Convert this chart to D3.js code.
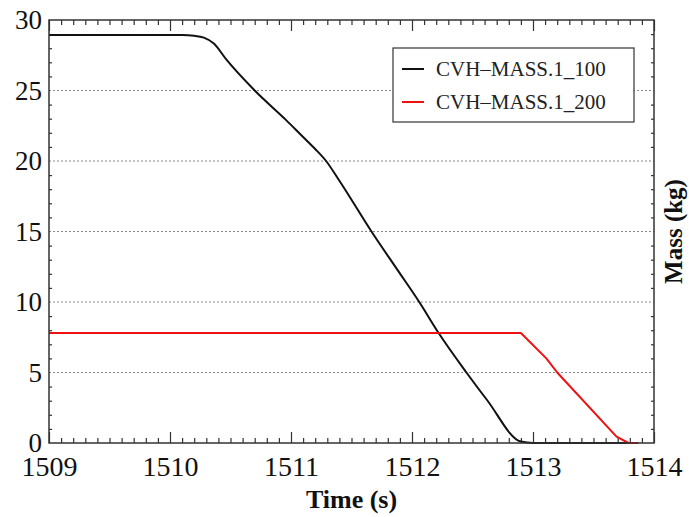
<!DOCTYPE html>
<html>
<head>
<meta charset="utf-8">
<script src="https://cdn.jsdelivr.net/npm/d3@7"></script>
<style>
  body { margin: 0; background: #fff; }
  svg text { font-family: "Liberation Serif", serif; fill: #111; }
</style>
</head>
<body>
<div id="vizholder"></div>
<script>
// time (s) and mass (kg)
var timeBlack = [1509.0, 1510.1, 1510.2, 1510.28, 1510.36, 1510.47, 1510.7, 1510.96, 1511.1, 1511.2, 1511.29, 1511.4, 1511.665, 1511.87, 1512.06, 1512.22, 1512.45, 1512.62, 1512.9, 1513.0, 1513.87];
var massBlack = [28.93, 28.93, 28.88, 28.75, 28.35, 27.15, 25.0, 22.9, 21.7, 20.85, 20.0, 18.6, 15.0, 12.4, 10.0, 7.8, 5.0, 3.05, 0.1, 0.0, 0.0];
var timeRed = [1509.0, 1512.9, 1513.11, 1513.2, 1513.69, 1513.79, 1513.87];
var massRed = [7.8, 7.8, 6.0, 5.0, 0.45, 0.0, 0.0];

var seriesNames = ["CVH\u2013MASS.1_100", "CVH\u2013MASS.1_200"];
var seriesColors = ["#111111", "#ee1111"];

var xTicks = [1509, 1510, 1511, 1512, 1513, 1514];
var yTicks = [0, 5, 10, 15, 20, 25, 30];

var width = 689, height = 517;
var margin = {top: 20, right: 35, bottom: 74, left: 49};

var svg = d3.select("#vizholder").append("svg")
    .attr("width", width)
    .attr("height", height);

var x = d3.scaleLinear().domain([1509, 1514]).range([margin.left, width - margin.right]);
var y = d3.scaleLinear().domain([0, 30]).range([height - margin.bottom, margin.top]);

// dotted grid lines
svg.append("g").selectAll("line")
    .data(yTicks.filter(function(d) { return d > 0 && d < 30; }))
    .enter().append("line")
    .attr("x1", x.range()[0]).attr("x2", x.range()[1])
    .attr("y1", function(d) { return y(d); })
    .attr("y2", function(d) { return y(d); })
    .attr("stroke", "#888")
    .attr("stroke-width", 1)
    .attr("stroke-dasharray", "2,2");

// minor ticks
var xMinor = d3.range(1509, 1514.001, 0.1).filter(function(d) { return Math.abs(d - Math.round(d)) > 0.01; });
var yMinor = d3.range(0, 30, 1).filter(function(d) { return d % 5 !== 0; });

function noDomain(g) { g.select(".domain").remove(); }

svg.append("g")
    .attr("transform", "translate(0," + y(0) + ")")
    .call(d3.axisBottom(x).tickValues(xMinor).tickSize(-5).tickFormat(""))
    .call(noDomain);
svg.append("g")
    .attr("transform", "translate(0," + y(30) + ")")
    .call(d3.axisTop(x).tickValues(xMinor).tickSize(-5).tickFormat(""))
    .call(noDomain);
svg.append("g")
    .attr("transform", "translate(" + x(1509) + ",0)")
    .call(d3.axisLeft(y).tickValues(yMinor).tickSize(-3).tickFormat(""))
    .call(noDomain);
svg.append("g")
    .attr("transform", "translate(" + x(1514) + ",0)")
    .call(d3.axisRight(y).tickValues(yMinor).tickSize(-3).tickFormat(""))
    .call(noDomain);

// major ticks + labels
var xAxis = svg.append("g")
    .attr("transform", "translate(0," + y(0) + ")")
    .call(d3.axisBottom(x).tickValues(xTicks).tickSize(-11).tickPadding(13).tickFormat(d3.format("d")))
    .call(noDomain);
xAxis.selectAll("text").style("font-size", "28px").attr("dy", "0.71em");

svg.append("g")
    .attr("transform", "translate(0," + y(30) + ")")
    .call(d3.axisTop(x).tickValues(xTicks).tickSize(-11).tickFormat(""))
    .call(noDomain);

var yAxis = svg.append("g")
    .attr("transform", "translate(" + x(1509) + ",0)")
    .call(d3.axisLeft(y).tickValues(yTicks).tickSize(0).tickPadding(7))
    .call(noDomain);
yAxis.selectAll("text").style("font-size", "27px");

svg.selectAll(".tick line").attr("stroke", "#333").attr("stroke-width", 1.2);

// data lines
var line = d3.line()
    .curve(d3.curveMonotoneX)
    .x(function(d) { return x(d[0]); })
    .y(function(d) { return y(d[1]); });

var series = [d3.zip(timeBlack, massBlack), d3.zip(timeRed, massRed)];

svg.append("g").selectAll("path")
    .data(series)
    .enter().append("path")
    .attr("d", function(d, i) { return i === 0 ? line(d) : line.curve(d3.curveLinear)(d); })
    .attr("fill", "none")
    .attr("stroke", function(d, i) { return seriesColors[i]; })
    .attr("stroke-width", 2)
    .attr("stroke-linejoin", "round");

// frame
svg.append("rect")
    .attr("x", x(1509)).attr("y", y(30))
    .attr("width", x(1514) - x(1509))
    .attr("height", y(0) - y(30))
    .attr("fill", "none")
    .attr("stroke", "#333")
    .attr("stroke-width", 1.5);

// legend
var legend = svg.append("g").attr("transform", "translate(393,48)");
legend.append("rect")
    .attr("width", 241).attr("height", 74)
    .attr("fill", "#fff").attr("stroke", "#333").attr("stroke-width", 1.2);
var item = legend.selectAll(".item")
    .data(seriesNames)
    .enter().append("g")
    .attr("transform", function(d, i) { return "translate(0," + (21 + i * 33) + ")"; });
item.append("line")
    .attr("x1", 9).attr("x2", 31)
    .attr("stroke", function(d, i) { return seriesColors[i]; })
    .attr("stroke-width", 2);
item.append("text")
    .attr("x", 43).attr("dy", "0.33em")
    .style("font-size", "21px")
    .style("fill", "#222")
    .text(function(d) { return d; });

// axis titles
svg.append("text")
    .attr("x", (x(1509) + x(1514)) / 2)
    .attr("y", 508)
    .attr("text-anchor", "middle")
    .style("font-size", "26px")
    .style("font-weight", "bold")
    .text("Time (s)");

svg.append("text")
    .attr("transform", "translate(682," + (y(0) + y(30)) / 2 + ") rotate(-90)")
    .attr("text-anchor", "middle")
    .style("font-size", "25px")
    .style("font-weight", "bold")
    .text("Mass (kg)");
</script>
</body>
</html>
